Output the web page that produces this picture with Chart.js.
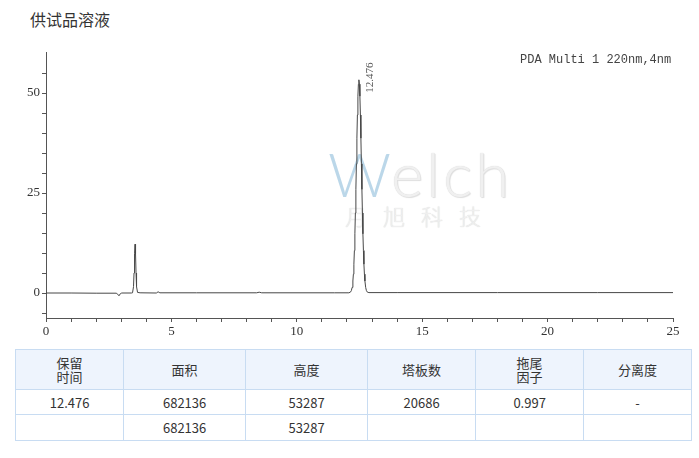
<!DOCTYPE html>
<html>
<head>
<meta charset="utf-8">
<script src="https://cdn.jsdelivr.net/npm/chart.js@4.4.1/dist/chart.umd.min.js"></script>
<style>
  html, body { margin:0; padding:0; background:#fff; }
  body { width:699px; height:458px; position:relative; overflow:hidden; font-family:"Noto Sans CJK SC","Noto Sans",sans-serif; }
  #title { position:absolute; left:30px; top:8px; font-size:16px; color:#333; line-height:22px; }
  #wm { position:absolute; left:328px; top:138px; width:200px; height:100px; z-index:0; pointer-events:none; }
  #wm .en { position:absolute; left:0; top:0; font-family:"Lato","Open Sans",sans-serif; font-weight:300; font-size:62px; line-height:70px; color:#f0f0f0; letter-spacing:3px; text-shadow:0 0 1px #d0d0d0, 1px 1px 1px #e0e0e0; }
  #wm .en b { font-weight:300; color:rgba(120,175,212,0.5); text-shadow:none; }
  #wm .cn { position:absolute; left:17px; top:64px; font-size:22px; line-height:26px; color:#efefef; letter-spacing:16px; font-weight:300; text-shadow:0 0 1px #d2d2d2; }
  #cv { position:absolute; left:0; top:0; z-index:1; }
  #pda { position:absolute; left:520px; top:52px; font-family:"Liberation Mono","DejaVu Sans Mono",monospace; font-size:12px; color:#444; z-index:2; line-height:16px; }
  table { position:absolute; left:15px; top:349px; width:677px; border-collapse:collapse; z-index:2; }
  td, th { border:1px solid #c8dcf2; text-align:center; font-size:13px; color:#333; font-weight:normal; padding:0; }
  th { background:#eef4fd; height:39px; line-height:14px; }
  tr.r1 td { height:24px; }
  tr.r2 td { height:25px; }
</style>
</head>
<body>
<div id="title">供试品溶液</div>
<div id="wm"><div class="en"><b>W</b>elch</div><div class="cn">月旭科技</div></div>
<canvas id="cv" width="699" height="345"></canvas>
<div id="pda">PDA Multi 1 220nm,4nm</div>
<table id="tbl"></table>
<script>
// ---- data ----
const times = [0, 1.0, 2.0, 2.80, 2.86, 2.91, 2.96, 3.02, 3.40, 3.45, 3.49, 3.51, 3.53, 3.55, 3.57, 3.59, 3.61, 3.65, 3.75, 4.40, 4.47, 4.54, 6.0, 8.4, 8.5, 8.6, 11.5, 12.076, 12.136, 12.176, 12.206, 12.236, 12.256, 12.276, 12.296, 12.316, 12.336, 12.356, 12.376, 12.396, 12.416, 12.436, 12.456, 12.476, 12.496, 12.516, 12.536, 12.556, 12.576, 12.596, 12.616, 12.636, 12.656, 12.676, 12.696, 12.716, 12.746, 12.776, 12.816, 12.876, 14.0, 18.0, 22.0, 25.0];
const signal = [0.0, 0.0, -0.05, -0.05, -0.3, -0.7, -0.2, 0.0, 0.0, 0.05, 1.6, 5.0, 9.8, 12.2, 9.8, 5.0, 1.6, 0.15, 0.05, 0.0, 0.3, 0.05, 0.05, 0.05, 0.2, 0.05, 0.05, 0.05, 0.2, 0.6, 1.4, 3.0, 4.7, 7.2, 10.6, 14.8, 20.0, 25.9, 32.3, 38.7, 44.5, 49.2, 52.2, 53.3, 52.2, 49.2, 44.5, 38.7, 32.3, 25.9, 20.0, 14.8, 10.6, 7.2, 4.7, 3.0, 1.4, 0.6, 0.2, 0.1, 0.1, 0.1, 0.1, 0.1];
const peakTime = 12.476;
const peakHeight = 53.3;
const peakLabel = "12.476";
const xTickValues = [0,1,2,3,4,5,6,7,8,9,10,11,12,13,14,15,16,17,18,19,20,21,22,23,24,25];
const xTickLabels = [0,5,10,15,20,25];
const yTickValues = [-5,0,5,10,15,20,25,30,35,40,45,50,55];
const yTickLabels = [0,25,50];
const tableHead = ["保留<br>时间","面积","高度","塔板数","拖尾<br>因子","分离度"];
const tableRow1 = ["12.476","682136","53287","20686","0.997","-"];
const tableRow2 = ["","682136","53287","","",""];
const colWidths = [108,122,122,108,108,108];

// ---- table ----
const tbl = document.getElementById('tbl');
let html = '<tr>' + tableHead.map((h,i)=>`<th style="width:${colWidths[i]}px">${h}</th>`).join('') + '</tr>';
html += '<tr class="r1">' + tableRow1.map(v=>`<td>${v}</td>`).join('') + '</tr>';
html += '<tr class="r2">' + tableRow2.map(v=>`<td>${v}</td>`).join('') + '</tr>';
tbl.innerHTML = html;

// ---- chart ----
const pts = times.map((t,i)=>({x:t, y:signal[i]}));
const tickFont = {family:'"Liberation Serif","DejaVu Serif",serif', size:13};

const peakLabelPlugin = {
  id:'peakLabel',
  afterDatasetsDraw(chart){
    const {ctx, scales:{x,y}} = chart;
    const px = x.getPixelForValue(peakTime) + 11;
    const py = y.getPixelForValue(peakHeight) + 13;
    ctx.save();
    ctx.translate(px, py);
    ctx.rotate(-Math.PI/2);
    ctx.font = '11px "Liberation Serif","DejaVu Serif",serif';
    ctx.fillStyle = '#555';
    ctx.textAlign = 'left';
    ctx.textBaseline = 'middle';
    ctx.fillText(peakLabel, 0, 0);
    ctx.restore();
  }
};

new Chart(document.getElementById('cv'), {
  type:'line',
  data:{ datasets:[{ data:pts, borderColor:'#474747', borderWidth:1, pointRadius:0, tension:0, fill:false }] },
  options:{
    responsive:false, animation:false,
    layout:{ padding:{ top:52, right:26, left:0, bottom:0 } },
    plugins:{ legend:{display:false}, tooltip:{enabled:false}, title:{display:false} },
    scales:{
      x:{
        type:'linear', min:0, max:25,
        afterBuildTicks:s=>{ s.ticks = xTickValues.map(v=>({value:v})); },
        afterFit:s=>{ s.height = 27; },
        ticks:{ autoSkip:false, maxRotation:0, padding:2, color:'#333', font:tickFont,
          callback:v=> xTickLabels.includes(v) ? String(v) : '' },
        grid:{ drawOnChartArea:false, drawTicks:true, tickLength:4, color:'#555' },
        border:{ display:true, color:'#555', width:1 }
      },
      y:{
        type:'linear', min:-6.25, max:60.25,
        afterBuildTicks:s=>{ s.ticks = yTickValues.map(v=>({value:v})); },
        afterFit:s=>{ s.width = 46; },
        ticks:{ autoSkip:false, padding:2, color:'#333', font:tickFont,
          callback:v=> yTickLabels.includes(v) ? String(v) : '' },
        grid:{ drawOnChartArea:false, drawTicks:true, tickLength:4, color:'#555' },
        border:{ display:true, color:'#555', width:1 }
      }
    }
  },
  plugins:[peakLabelPlugin]
});
</script>
</body>
</html>
